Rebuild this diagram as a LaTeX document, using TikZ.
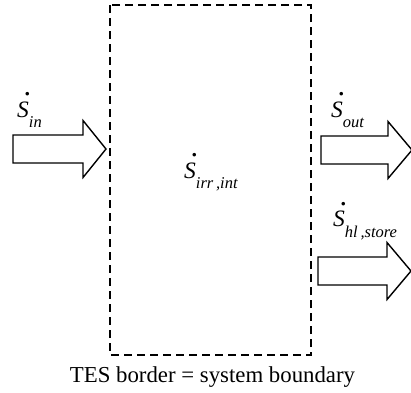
\documentclass[tikz,border=0pt]{standalone}
\usepackage{fontspec}
\setmainfont{Liberation Serif}
\newcommand\Sdot{\makebox[0pt][l]{\hspace{0.30em}\raisebox{0.92em}{\fontsize{30}{30}\selectfont .}}S}
\newcommand\subtxt[1]{\raisebox{-10.5pt}{\fontsize{16.5}{16.5}\selectfont #1}}
\begin{document}
\begin{tikzpicture}[x=1pt,y=-1pt,
  flow/.style={draw=black,line width=1.4pt,fill=white,line join=miter},
  border/.style={draw=black,line width=1.8pt,dash pattern=on 8pt off 5pt},
  sym/.style={inner sep=0pt,anchor=base west,font=\fontsize{23.5}{23.5}\selectfont\itshape},
  captxt/.style={inner sep=0pt,anchor=base,font=\fontsize{22.8}{22.8}\selectfont}]
\useasboundingbox (0,0) rectangle (411,392);
\newcommand\blockarrow[4]{% x0, y-center, xbase, xtip
  \draw[flow] (#1,#2-14) -- (#3,#2-14) -- (#3,#2-28.5) -- (#4,#2) -- (#3,#2+28.5) -- (#3,#2+14) -- (#1,#2+14) -- cycle;}
% system boundary
\draw[border] (110,5) rectangle (311,355);
% arrows
\blockarrow{13}{149}{83}{106}
\blockarrow{321}{150}{388}{412}
\blockarrow{318}{271}{387}{411}
% labels
\node[sym] (sin) at (17,117) {\Sdot\subtxt{in}};
\node[sym] (sout) at (331,117) {\Sdot\subtxt{out}};
\node[sym] (sirr) at (184,178.3) {\Sdot\subtxt{irr\,,int}};
\node[sym] (shl) at (333,226.7) {\Sdot\subtxt{hl\,,store}};
\node[captxt] (caption) at (212.5,382) {TES border = system boundary};
\end{tikzpicture}
\end{document}
